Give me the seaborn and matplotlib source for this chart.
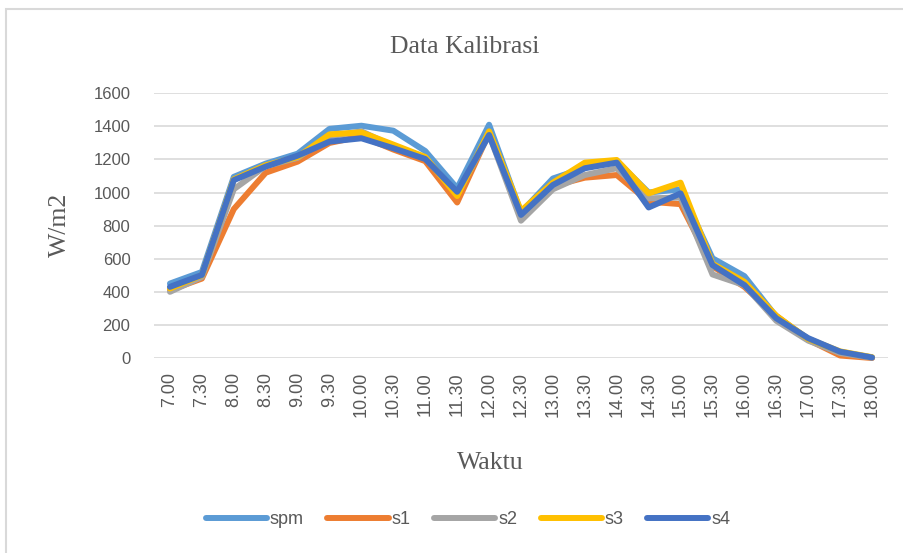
import numpy as np
import pandas as pd
import seaborn as sns
import matplotlib.pyplot as plt
from matplotlib.patches import Rectangle
from matplotlib.lines import Line2D

# ── data ──────────────────────────────────────────────────
waktu = ["7.00", "7.30", "8.00", "8.30", "9.00", "9.30", "10.00", "10.30",
         "11.00", "11.30", "12.00", "12.30", "13.00", "13.30", "14.00",
         "14.30", "15.00", "15.30", "16.00", "16.30", "17.00", "17.30", "18.00"]

spm = [450, 520, 1095, 1175, 1235, 1385, 1404, 1374, 1251, 1026, 1410, 880,
       1085, 1150, 1190, 1000, 1020, 603, 495, 250, 115, 35, 3]
s1  = [410, 480, 900, 1120, 1187, 1300, 1340, 1260, 1190, 940, 1360, 870,
       1040, 1090, 1106, 945, 930, 555, 430, 255, 110, 15, 0]
s2  = [400, 490, 1020, 1160, 1210, 1340, 1370, 1280, 1210, 990, 1350, 830,
       1020, 1106, 1147, 965, 970, 505, 440, 225, 105, 30, 2]
s3  = [420, 500, 1080, 1165, 1215, 1352, 1364, 1290, 1215, 979, 1370, 889,
       1060, 1181, 1197, 995, 1060, 570, 461, 255, 115, 40, 5]
s4  = [430, 502, 1075, 1157, 1223, 1308, 1328, 1268, 1203, 1005, 1348, 865,
       1046, 1147, 1181, 910, 995, 562, 441, 240, 120, 38, 3]

series = ["spm", "s1", "s2", "s3", "s4"]
colors = ["#5B9BD5", "#ED7D31", "#A5A5A5", "#FFC000", "#4472C4"]

df = pd.DataFrame({"idx": np.arange(len(waktu)),
                   "spm": spm, "s1": s1, "s2": s2, "s3": s3, "s4": s4})
long_df = df.melt(id_vars="idx", var_name="series", value_name="val")

# ── plot ─────────────────────────────────────────────────
sns.set_style("white")
W, H = 904, 553
fig = plt.figure(figsize=(W / 100, H / 100), dpi=100)
ax = fig.add_axes([154 / W, 1 - 358 / H, 734 / W, 264.7 / H])

ax.yaxis.grid(True, color="#D9D9D9", lw=1.2)
ax.set_axisbelow(True)

sns.lineplot(data=long_df, x="idx", y="val", hue="series", hue_order=series,
             palette=colors, linewidth=4.3, sort=False, legend=False, ax=ax)
for ln in ax.lines:
    ln.set_clip_on(False)
    ln.set_solid_joinstyle("round")

ax.set_xlim(-0.5, len(waktu) - 0.5)
ax.set_ylim(0, 1600)
ax.set_yticks(range(0, 1601, 200))
ax.set_xticks(range(len(waktu)))
ax.set_xticklabels(waktu, rotation=90)
ax.tick_params(axis="y", length=0, pad=17, labelsize=12, labelcolor="#595959")
ax.tick_params(axis="x", length=0, pad=10, labelsize=13, labelcolor="#595959")
for lbl in ax.get_xticklabels() + ax.get_yticklabels():
    lbl.set_fontfamily("Liberation Sans")
for sp in ax.spines.values():
    sp.set_visible(False)
ax.set_xlabel("")
ax.set_ylabel("")

serif = "Liberation Serif"
fig.text(465 / W, 1 - 47 / H, "Data Kalibrasi", ha="center", va="center",
         fontsize=18.5, family=serif, color="#595959")
fig.text(490 / W, 1 - 463 / H, "Waktu", ha="center", va="center",
         fontsize=18.5, family=serif, color="#595959")
fig.text(60 / W, 1 - 225 / H, "W/m2", ha="center", va="center", rotation=90,
         fontsize=18.5, family=serif, color="#595959")

handles = [Line2D([], [], color=c, lw=4.3, solid_capstyle="round") for c in colors]
fig.legend(handles, series, loc="center", bbox_to_anchor=(468 / W, 1 - 520 / H),
           ncol=5, frameon=False, handlelength=3.4, handletextpad=0.15,
           columnspacing=1.3, prop={"family": "Liberation Sans", "size": 13},
           labelcolor="#595959")

fig.add_artist(Rectangle((6 / W, -0.1), 2, 1 - 9 / H + 0.1, transform=fig.transFigure,
                         fill=False, edgecolor="#D9D9D9", lw=1.5))

fig.savefig("out.png", dpi=100)
